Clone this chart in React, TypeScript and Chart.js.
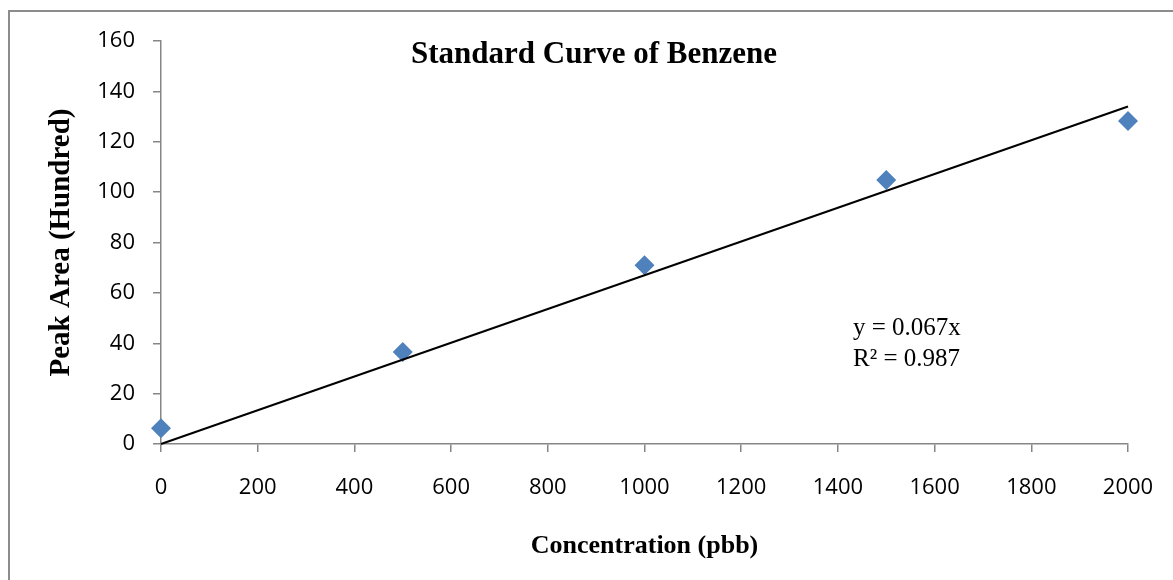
import React, { useEffect, useRef } from "react";
import { Chart, registerables } from "chart.js";

Chart.register(...registerables);

const concentrations = [0, 500, 1000, 1500, 2000];
const peakAreas = [6.3, 36.5, 71, 104.8, 128.2];
const trendSlope = 0.067;
const trendRange = [0, 2000];
const chartTitle = "Standard Curve of Benzene";
const xTitle = "Concentration (pbb)";
const yTitle = "Peak Area (Hundred)";
const equationLines = ["y = 0.067x", "R² = 0.987"];

const W = 1173;
const H = 580;
const AXIS_GRAY = "#868686";
const SERIF = "'Liberation Serif', 'Times New Roman', serif";
const TICK_FONT = { family: "'Open Sans', sans-serif", size: 22 };

const decorPlugin = {
  id: "decor",
  beforeDraw(chart: any) {
    const ctx = chart.ctx;
    ctx.save();
    ctx.fillStyle = "#ffffff";
    ctx.fillRect(0, 0, W, H);
    ctx.strokeStyle = "#8c8c8c";
    ctx.lineWidth = 2;
    ctx.strokeRect(9, 11, W + 20, H + 20);
    ctx.restore();
  },
  afterDraw(chart: any) {
    const ctx = chart.ctx;
    const area = chart.chartArea;
    ctx.save();
    ctx.fillStyle = "#000";
    ctx.textBaseline = "alphabetic";
    ctx.font = `bold 31px ${SERIF}`;
    ctx.textAlign = "center";
    ctx.fillText(chartTitle, 594, 63);
    ctx.font = `bold 26px ${SERIF}`;
    ctx.fillText(xTitle, (area.left + area.right) / 2, 553);
    ctx.save();
    ctx.translate(69, (area.top + area.bottom) / 2);
    ctx.rotate(-Math.PI / 2);
    ctx.font = `bold 29px ${SERIF}`;
    ctx.textAlign = "center";
    ctx.fillText(yTitle, 0, 0);
    ctx.restore();
    ctx.font = `25px ${SERIF}`;
    ctx.textAlign = "left";
    ctx.fillText(equationLines[0], 853, 335);
    ctx.fillText(equationLines[1], 853, 366);
    ctx.restore();
  },
};

export default function App() {
  const ref = useRef<HTMLCanvasElement | null>(null);

  useEffect(() => {
    if (!ref.current) return;
    const points = concentrations.map((x, i) => ({ x, y: peakAreas[i] }));
    const trend = trendRange.map((x) => ({ x, y: trendSlope * x }));
    const chart = new Chart(ref.current, {
      type: "scatter",
      data: {
        datasets: [
          {
            type: "line",
            label: "Trend",
            data: trend,
            borderColor: "#000000",
            borderWidth: 2,
            pointRadius: 0,
            showLine: true,
            fill: false,
            clip: false,
            order: 0,
          } as any,
          {
            label: "Peak Area",
            data: points,
            pointStyle: "rectRot",
            pointRadius: 10,
            pointHoverRadius: 10,
            backgroundColor: "#4F81BD",
            borderColor: "#4F81BD",
            borderWidth: 0,
            clip: false,
            order: 1,
          } as any,
        ],
      },
      options: {
        responsive: false,
        animation: false,
        layout: { padding: { left: 0, top: 41, right: 45, bottom: 0 } },
        plugins: {
          legend: { display: false },
          tooltip: { enabled: false },
          title: { display: false },
        },
        scales: {
          x: {
            type: "linear",
            min: 0,
            max: 2000,
            afterFit: (s: any) => {
              s.height = 136;
              s.paddingLeft = 0;
              s.paddingRight = 0;
            },
            ticks: {
              stepSize: 200,
              color: "#000",
              padding: 23,
              font: TICK_FONT,
              maxRotation: 0,
              callback: (v: any) => String(v),
            },
            grid: {
              drawOnChartArea: false,
              drawTicks: true,
              tickLength: 8,
              color: AXIS_GRAY,
              lineWidth: 1.5,
            },
            border: { display: true, color: AXIS_GRAY, width: 1.5 },
          },
          y: {
            type: "linear",
            min: 0,
            max: 160,
            afterFit: (s: any) => {
              s.width = 161;
              s.paddingTop = 0;
              s.paddingBottom = 0;
            },
            ticks: {
              stepSize: 20,
              color: "#000",
              padding: 18,
              font: TICK_FONT,
              callback: (v: any) => String(v),
            },
            grid: {
              drawOnChartArea: false,
              drawTicks: true,
              tickLength: 8,
              color: AXIS_GRAY,
              lineWidth: 1.5,
            },
            border: { display: true, color: AXIS_GRAY, width: 1.5 },
          },
        },
      },
      plugins: [decorPlugin],
    });
    return () => chart.destroy();
  }, []);

  return (
    <div style={{ position: "absolute", left: 0, top: 0, width: W, height: H }}>
      <canvas ref={ref} width={W} height={H} style={{ display: "block" }} />
    </div>
  );
}
